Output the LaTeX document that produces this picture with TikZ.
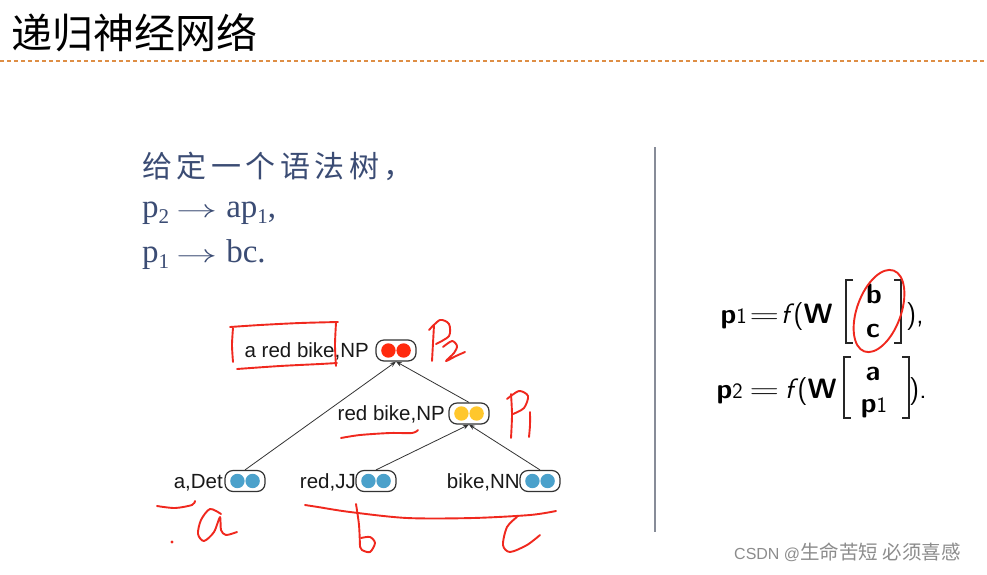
\documentclass[tikz,border=0pt]{standalone}
\usepackage{amsmath}
\usepackage{graphicx}
\usepackage{fontspec}
\newfontfamily\cjk{Noto Sans CJK SC}
\newfontfamily\cjkspaced{Noto Sans CJK SC}[LetterSpace=15]
\newfontfamily\arialf{Liberation Sans}
\newfontfamily\timesf{Liberation Serif}
\usetikzlibrary{arrows.meta}
\definecolor{slate}{HTML}{3B4C74}
\definecolor{handred}{HTML}{F0281E}
\definecolor{vred}{HTML}{FF2A0E}
\definecolor{vyellow}{HTML}{FFC72C}
\definecolor{vblue}{HTML}{4BA1CB}
\definecolor{dashorange}{HTML}{DE8E45}
\definecolor{sepgray}{HTML}{878C98}
\newcommand\vecnode[3]{%
  \node[vecbox] (#1) at (#2) {};
  \fill[#3] ([xshift=-7.6pt]#1.center) circle (7.2pt);
  \fill[#3] ([xshift=7.6pt]#1.center) circle (7.2pt);
}
\newcommand\rsub[1]{{\fontsize{21}{21}\selectfont\raisebox{-6pt}{#1}}}
\newcommand\esub[1]{{\fontsize{22}{22}\selectfont #1}}
\newcommand\wideeq{\scalebox{1.65}[1.1]{$=$}}
\newcommand\longarr{\scalebox{1.65}[1]{$\rightarrow$}}
\tikzset{
  vecbox/.style={draw=black!80, line width=1.2pt, rounded corners=8pt,
    minimum width=40pt, minimum height=21pt, inner sep=0pt},
  treeedge/.style={draw=black!80, line width=0.8pt, -{Stealth[length=6pt,width=4.5pt]}},
  treelabel/.style={anchor=base east, inner sep=0pt, text=black!90,
    font=\arialf\fontsize{20.5}{24}\selectfont},
  hand/.style={draw=handred, line width=1.9pt, line cap=round, line join=round},
  eqn/.style={inner sep=0pt, font=\sffamily\fontsize{28}{33}\selectfont},
  brk/.style={draw=black!85, line width=1.7pt},
  ruletext/.style={anchor=base west, inner sep=0pt, text=slate, font=\timesf\fontsize{33}{38}\selectfont},
}
\begin{document}
\begin{tikzpicture}[x=1pt,y=-1pt]
\useasboundingbox (0,0) rectangle (987,574);
\fill[white] (0,0) rectangle (987,574);

% title
\node[anchor=west, inner sep=0pt, font=\cjk\fontsize{41}{41}\selectfont] (title) at (11,33) {递归神经网络};
\coordinate (dl) at (0,61);
\coordinate (dr) at (987,61);
\draw[draw=dashorange, line width=1.1pt, dash pattern=on 4pt off 3pt] (dl) -- (dr);

% left text
\node[anchor=west, inner sep=0pt, text=slate, font=\cjkspaced\fontsize{30}{34}\selectfont] (intro) at (142,166) {给定一个语法树，};
\node[ruletext] (rule1) at (142,217) {p\rsub{2}\hspace{7pt}\longarr\hspace{9pt}ap\rsub{1},};
\node[ruletext] (rule2) at (142,262) {p\rsub{1}\hspace{7pt}\longarr\hspace{9pt}bc.};

% separator
\coordinate (st) at (655,147);
\coordinate (sb) at (655,532);
\draw[draw=sepgray, line width=1.2pt] (st) -- (sb);

% tree
\vecnode{top}{396,350.5}{vred}
\vecnode{mid}{469,413.5}{vyellow}
\vecnode{adet}{245,481}{vblue}
\vecnode{redjj}{376,481}{vblue}
\vecnode{bikenn}{540,481}{vblue}
\node[treelabel] (ltop) at (369,357) {a red bike,NP};
\node[treelabel] (lmid) at (445,420) {red bike,NP};
\node[treelabel] (ladet) at (223,488) {a,Det};
\node[treelabel] (lredjj) at (356,488) {red,JJ};
\node[treelabel] (lbikenn) at (520,488) {bike,NN};
\draw[treeedge] (adet.north) -- (top.south);
\draw[treeedge] (mid.north) -- (top.south);
\draw[treeedge] (redjj.north) -- (mid.south);
\draw[treeedge] (bikenn.north) -- (mid.south);

% equation 1
\node[eqn, anchor=base east] (eq1l) at (833,323) {\textbf{p}\esub{1}\hspace{3pt}\wideeq\hspace{2pt}\textit{f}\hspace{-1pt}(\textbf{W}};
\node[eqn, anchor=base] (eq1b) at (874,303) {\textbf{b}};
\node[eqn, anchor=base] (eq1c) at (873,337) {\textbf{c}};
\node[eqn, anchor=base west] (eq1r) at (906,323) {),};
\draw[brk] (853,280) -- (846,280) -- (846,343) -- (853,343);
\draw[brk] (894,280) -- (901,280) -- (901,343) -- (894,343);
% equation 2
\node[eqn, anchor=base east] (eq2l) at (837,398) {\textbf{p}\esub{2}\hspace{7pt}\wideeq\hspace{6pt}\textit{f}\hspace{-1pt}(\textbf{W}};
\node[eqn, anchor=base] (eq2a) at (873,380) {\textbf{a}};
\node[eqn, anchor=base] (eq2p) at (874,412) {\textbf{p}\esub{1}};
\node[eqn, anchor=base west] (eq2r) at (909,398) {).};
\draw[brk] (851,357) -- (844,357) -- (844,418) -- (851,418);
\draw[brk] (902,357) -- (909,357) -- (909,418) -- (902,418);

% watermark
\node[anchor=base west, inner sep=0pt, text=black!45] (wm) at (734,559) {{\arialf\fontsize{16}{18}\selectfont CSDN @}{\cjk\fontsize{19.5}{20}\selectfont 生命苦短 必须喜感}};

% handwritten annotations
\draw[hand] plot[smooth] coordinates {(233,328) (232,345) (233,362)};
\draw[hand] plot[smooth] coordinates {(230,327) (260,325) (300,323) (338,322)};
\draw[hand] plot[smooth] coordinates {(336,323) (335,345) (336,366)};
\draw[hand] plot[smooth] coordinates {(237,369) (280,366) (320,364) (337,363)};
% P2
\draw[hand] plot[smooth] coordinates {(434,325) (433,343) (432,361)};
\draw[hand] plot[smooth] coordinates {(429,330) (440,320) (449,324) (449,336) (436,344)};
\draw[hand] plot[smooth] coordinates {(443,347) (452,341) (457,346) (454,353) (446,361) (456,356) (465,352)};
% P1
\draw[hand] plot[smooth] coordinates {(511,394) (512,415) (511,438)};
\draw[hand] plot[smooth] coordinates {(507,399) (519,391) (528,396) (524,408) (513,414)};
\draw[hand] plot[smooth] coordinates {(530,412) (530,425) (529,437)};
% underline red bike
\draw[hand] plot[smooth] coordinates {(341,438) (360,435) (390,433) (412,433) (418,430)};
% a
\draw[hand] plot[smooth] coordinates {(157,506) (175,508) (192,505) (195,501)};
\fill[handred] (172,542) circle (1.6pt);
\draw[hand] plot[smooth] coordinates {(221,514) (210,509) (201,520) (198,534) (204,541) (214,532) (220,517) (221,530) (226,535) (237,532)};
% b c line
\draw[hand] plot[smooth] coordinates {(305,505) (318,507) (350,512) (407,518) (473,518) (530,515) (556,511)};
\draw[hand] plot[smooth] coordinates {(356,504) (359,525) (360,547)};
\draw[hand] plot[smooth] coordinates {(361,538) (370,537) (375,543) (370,552) (362,550) (360,546)};
\draw[hand] plot[smooth] coordinates {(517,517) (507,527) (503,545) (510,552) (527,545) (540,535)};
% ellipse around b c
\draw[hand, rotate around={70:(879,311)}] (879,311) ellipse [x radius=43pt, y radius=22pt];
\end{tikzpicture}
\end{document}
